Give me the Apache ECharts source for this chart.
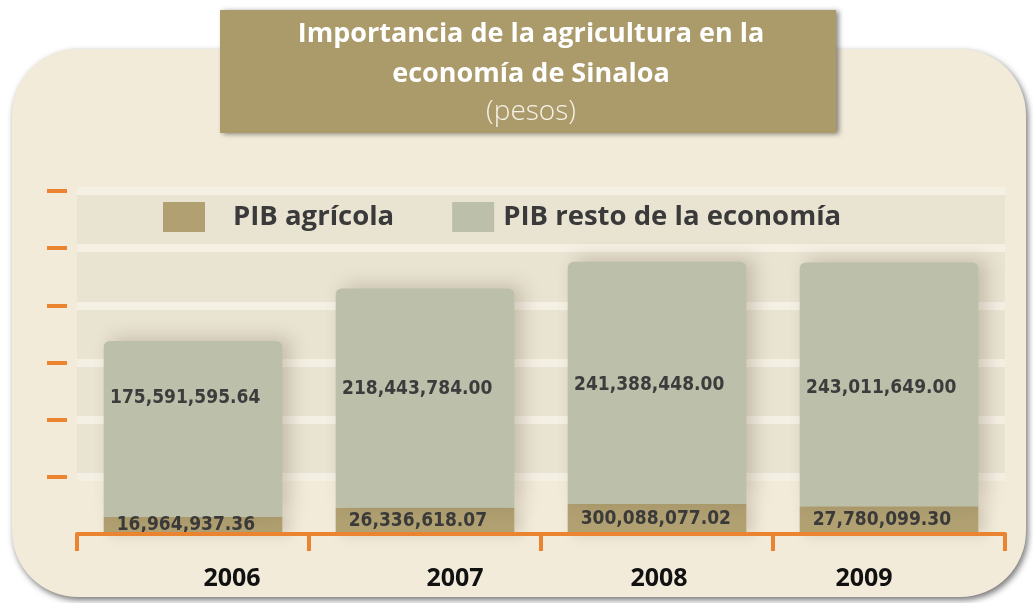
<!DOCTYPE html>
<html>
<head>
<meta charset="utf-8">
<script src="https://cdn.jsdelivr.net/npm/echarts@6/dist/echarts.min.js"></script>
<style>
  html, body { margin: 0; padding: 0; background: #fff; }
  #chart { width: 1033px; height: 603px; }
</style>
</head>
<body>
<div id="chart"></div>
<script>
// values (pesos)
let years = ['2006', '2007', '2008', '2009']
let pibAgricola = [16964937.36, 26336618.07, 30008807.70, 27780099.30]
let pibResto = [175591595.64, 218443784.00, 241388448.00, 243011649.00]
// labels as printed (2008 agricultural label is printed with an extra digit)
let agricolaLabels = ['16,964,937.36', '26,336,618.07', '300,088,077.02', '27,780,099.30']
let restoLabels = ['175,591,595.64', '218,443,784.00', '241,388,448.00', '243,011,649.00']
// unlabeled tick marks on the value axis
let yStep = 57000000
let yTicks = [1, 2, 3, 4, 5, 6].map(k => k * yStep)

let orange = '#ea8430'
let labelFont = "'DejaVu Sans Condensed', 'DejaVu Sans', sans-serif"
// the year labels are not centred under their columns in the original
let yearShift = [39, 30, 2, -25]

let yearRich = {}
yearShift.forEach((s, i) => {
  yearRich['y' + i] = {
    color: '#111111',
    fontFamily: 'Open Sans',
    fontWeight: 'bold',
    fontSize: 25,
    padding: s > 0 ? [0, 0, 0, 2 * s] : [0, -2 * s, 0, 0]
  }
})

let chart = echarts.init(document.getElementById('chart'))

let option = {
  backgroundColor: '#ffffff',
  animation: false,
  graphic: [
    {
      type: 'rect',
      z: -10,
      shape: { x: 12, y: 49, width: 1014, height: 548, r: 66 },
      style: {
        fill: '#f2ebda',
        shadowBlur: 6,
        shadowOffsetX: 2,
        shadowOffsetY: 3,
        shadowColor: 'rgba(0,0,0,0.55)'
      }
    },
    {
      type: 'rect',
      z: -5,
      shape: { x: 220, y: 10, width: 616, height: 123 },
      style: {
        fill: '#ab9a6a',
        shadowBlur: 5,
        shadowOffsetX: 3,
        shadowOffsetY: 1,
        shadowColor: 'rgba(0,0,0,0.45)'
      }
    }
  ],
  title: {
    text: 'Importancia de la agricultura en la\neconomía de Sinaloa',
    subtext: '(pesos)',
    left: 531,
    top: 14,
    textAlign: 'center',
    padding: 0,
    itemGap: 3,
    textStyle: {
      color: '#ffffff',
      fontFamily: 'Open Sans',
      fontWeight: 'bold',
      fontSize: 27,
      lineHeight: 40
    },
    subtextStyle: {
      color: '#f6f2e8',
      fontFamily: 'Open Sans',
      fontWeight: 300,
      fontSize: 28,
      lineHeight: 30
    }
  },
  legend: {
    left: 163,
    top: 202,
    padding: 0,
    icon: 'rect',
    itemWidth: 42,
    itemHeight: 30,
    itemGap: 58,
    textStyle: {
      color: '#3a3a3a',
      fontFamily: 'Open Sans',
      fontWeight: 'bold',
      fontSize: 27.5
    },
    data: [
      { name: 'PIB agrícola', textStyle: { padding: [0, 0, 0, 23] } },
      { name: 'PIB resto de la economía', textStyle: { padding: [0, 0, 0, 4] } }
    ]
  },
  grid: {
    left: 77,
    right: 28,
    top: 191,
    bottom: 69
  },
  xAxis: {
    type: 'category',
    data: years,
    axisLine: { lineStyle: { color: orange, width: 4 } },
    axisTick: { show: true, length: 17, lineStyle: { color: orange, width: 4 } },
    axisLabel: {
      margin: 32,
      formatter: (v, i) => '{y' + i + '|' + v + '}',
      rich: yearRich
    },
    z: 10
  },
  yAxis: {
    type: 'value',
    min: 0,
    max: 6 * yStep,
    interval: yStep,
    offset: 10,
    axisLine: { show: false },
    axisLabel: { show: false },
    axisTick: {
      show: true,
      length: 20,
      customValues: yTicks,
      lineStyle: { color: orange, width: 4 }
    },
    splitLine: { show: true, lineStyle: { color: '#f5f0e4', width: 8 } },
    splitArea: { show: true, areaStyle: { color: ['#e9e3d2'] } }
  },
  series: [
    {
      name: 'PIB agrícola',
      type: 'bar',
      stack: 'pib',
      barWidth: '77%',
      data: pibAgricola,
      itemStyle: {
        color: '#b1a071',
        shadowBlur: 14,
        shadowOffsetX: 7,
        shadowColor: 'rgba(90,80,50,0.22)'
      },
      label: {
        show: true,
        position: 'insideLeft',
        distance: 13,
        color: '#3a3a3a',
        fontFamily: labelFont,
        fontWeight: 'bold',
        fontSize: 19,
        formatter: p => agricolaLabels[p.dataIndex]
      }
    },
    {
      name: 'PIB resto de la economía',
      type: 'bar',
      stack: 'pib',
      barWidth: '77%',
      data: pibResto,
      itemStyle: {
        color: '#bcc0ab',
        borderRadius: [6, 6, 0, 0],
        shadowBlur: 18,
        shadowOffsetX: 8,
        shadowOffsetY: -3,
        shadowColor: 'rgba(90,80,50,0.25)'
      },
      label: {
        show: true,
        position: 'insideBottom',
        distance: 109,
        align: 'left',
        offset: [-83, 0],
        color: '#3c3c3c',
        fontFamily: labelFont,
        fontWeight: 'bold',
        fontSize: 19,
        formatter: p => restoLabels[p.dataIndex]
      }
    }
  ]
}

chart.setOption(option)
</script>
</body>
</html>
